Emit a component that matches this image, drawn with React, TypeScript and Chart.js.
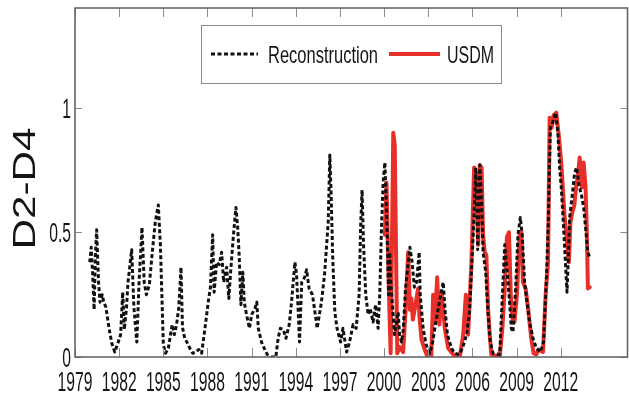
import React, { useEffect, useRef } from 'react';
import { Chart, registerables } from 'chart.js';

Chart.register(...registerables);

// ---------- data ----------
const reconYears = [
  1980.0, 1980.1, 1980.2, 1980.3, 1980.38, 1980.47, 1980.6, 1980.7, 1980.85, 1980.95,
  1981.1, 1981.3, 1981.5, 1981.7, 1981.94, 1982.1, 1982.24, 1982.35, 1982.5, 1982.6,
  1982.85, 1983.0, 1983.2, 1983.35, 1983.55, 1983.7, 1983.85, 1984.05, 1984.25, 1984.45,
  1984.66, 1984.8, 1984.9, 1985.0, 1985.15, 1985.34, 1985.6, 1985.75, 1985.9, 1986.05,
  1986.2, 1986.3, 1986.45, 1986.6, 1986.8, 1987.0, 1987.2, 1987.4, 1987.6, 1987.83,
  1988.05, 1988.2, 1988.35, 1988.45, 1988.62, 1988.8, 1988.96, 1989.1, 1989.3, 1989.45,
  1989.57, 1989.75, 1989.93, 1990.05, 1990.15, 1990.27, 1990.4, 1990.5, 1990.65, 1990.85,
  1991.0, 1991.22, 1991.35, 1991.45, 1991.67, 1991.85, 1992.06, 1992.35, 1992.64, 1992.8,
  1992.95, 1993.15, 1993.33, 1993.55, 1993.71, 1993.82, 1993.94, 1994.05, 1994.15, 1994.25,
  1994.4, 1994.6, 1994.73, 1994.9, 1995.13, 1995.3, 1995.45, 1995.6, 1995.74, 1995.95,
  1996.2, 1996.31, 1996.4, 1996.5, 1996.65, 1996.8, 1997.04, 1997.2, 1997.45, 1997.65,
  1997.89, 1998.1, 1998.3, 1998.4, 1998.5, 1998.6, 1998.75, 1998.91, 1999.05, 1999.25,
  1999.42, 1999.59, 1999.7, 1999.82, 1999.93, 2000.05, 2000.2, 2000.3, 2000.38, 2000.45,
  2000.55, 2000.7, 2000.95, 2001.05, 2001.18, 2001.3, 2001.45, 2001.75, 2001.9, 2002.05,
  2002.2, 2002.38, 2002.45, 2002.65, 2002.85, 2003.1, 2003.3, 2003.44, 2003.75, 2004.01,
  2004.15, 2004.3, 2004.57, 2004.8, 2005.1, 2005.35, 2005.6, 2005.8, 2006.05, 2006.23,
  2006.35, 2006.5, 2006.6, 2006.72, 2006.9, 2007.05, 2007.21, 2007.4, 2007.85, 2008.07,
  2008.19, 2008.33, 2008.48, 2008.64, 2008.75, 2008.93, 2009.09, 2009.25, 2009.38, 2009.54,
  2009.7, 2009.88, 2010.11, 2010.34, 2010.61, 2010.83, 2011.01, 2011.15, 2011.29, 2011.45,
  2011.65, 2011.81, 2011.92, 2012.03, 2012.19, 2012.33, 2012.42, 2012.5, 2012.6, 2012.78,
  2012.94, 2013.08, 2013.23, 2013.4, 2013.55, 2013.68, 2013.84, 2013.96,
];
const reconValues = [
  0.38, 0.44, 0.33, 0.19, 0.40, 0.51, 0.30, 0.22, 0.25, 0.22,
  0.20, 0.12, 0.055, 0.02, 0.06, 0.09, 0.26, 0.11, 0.20, 0.30,
  0.43, 0.20, 0.06, 0.30, 0.52, 0.30, 0.25, 0.29, 0.42, 0.54,
  0.61, 0.45, 0.25, 0.05, 0.015, 0.035, 0.13, 0.09, 0.13, 0.20,
  0.36, 0.12, 0.075, 0.06, 0.035, 0.015, 0.02, 0.03, 0.015, 0.115,
  0.22, 0.28, 0.49, 0.26, 0.38, 0.37, 0.42, 0.30, 0.36, 0.235,
  0.34, 0.48, 0.60, 0.52, 0.41, 0.21, 0.34, 0.22, 0.17, 0.115,
  0.17, 0.195, 0.22, 0.115, 0.06, 0.035, 0.01, 0.0, 0.0, 0.075,
  0.115, 0.11, 0.075, 0.13, 0.22, 0.30, 0.38, 0.33, 0.20, 0.06,
  0.30, 0.32, 0.35, 0.275, 0.25, 0.18, 0.115, 0.17, 0.22, 0.33,
  0.54, 0.81, 0.65, 0.41, 0.18, 0.115, 0.06, 0.115, 0.02, 0.06,
  0.13, 0.115, 0.25, 0.52, 0.67, 0.45, 0.25, 0.17, 0.195, 0.14,
  0.21, 0.115, 0.25, 0.52, 0.70, 0.78, 0.52, 0.25, 0.42, 0.30,
  0.22, 0.09, 0.18, 0.09, 0.06, 0.11, 0.275, 0.44, 0.38, 0.28,
  0.30, 0.42, 0.25, 0.115, 0.05, 0.015, 0.06, 0.115, 0.22, 0.30,
  0.18, 0.09, 0.035, 0.015, 0.01, 0.04, 0.09, 0.18, 0.49, 0.76,
  0.43, 0.77, 0.65, 0.42, 0.34, 0.18, 0.06, 0.015, 0.01, 0.30,
  0.45, 0.36, 0.25, 0.115, 0.10, 0.275, 0.49, 0.56, 0.49, 0.30,
  0.22, 0.14, 0.075, 0.035, 0.02, 0.06, 0.30, 0.54, 0.92, 0.94,
  0.98, 0.89, 0.76, 0.68, 0.52, 0.36, 0.26, 0.38, 0.56, 0.65,
  0.74, 0.76, 0.69, 0.65, 0.60, 0.52, 0.42, 0.40,
];

const usdmYears = [
  2000.05, 2000.16, 2000.25, 2000.33, 2000.44, 2000.62, 2000.72, 2000.89, 2001.05, 2001.29,
  2001.45, 2001.63, 2001.75, 2001.85, 2001.95, 2002.1, 2002.31, 2002.4, 2002.54, 2002.75,
  2002.95, 2003.2, 2003.33, 2003.45, 2003.6, 2003.75, 2003.9, 2004.12, 2004.35, 2004.69,
  2005.14, 2005.37, 2005.55, 2005.7, 2005.93, 2006.11, 2006.25, 2006.39, 2006.5, 2006.62,
  2006.72, 2006.83, 2006.94, 2007.06, 2007.17, 2007.28, 2007.85, 2008.03, 2008.19, 2008.34,
  2008.48, 2008.6, 2008.71, 2008.85, 2009.02, 2009.2, 2009.32, 2009.43, 2009.61, 2009.78,
  2009.99, 2010.15, 2010.33, 2010.5, 2010.79, 2010.97, 2011.13, 2011.24, 2011.38, 2011.51,
  2011.69, 2011.86, 2012.03, 2012.25, 2012.42, 2012.55, 2012.65, 2012.78, 2012.92, 2013.05,
  2013.15, 2013.28, 2013.42, 2013.55, 2013.68, 2013.76, 2013.84, 2013.96,
];
const usdmValues = [
  0.49, 0.70, 0.45, 0.25, 0.015, 0.90, 0.85, 0.015, 0.04, 0.02,
  0.18, 0.42, 0.19, 0.235, 0.15, 0.20, 0.275, 0.16, 0.07, 0.03,
  0.0, 0.0, 0.25, 0.14, 0.32, 0.13, 0.26, 0.115, 0.035, 0.01,
  0.0, 0.09, 0.25, 0.09, 0.38, 0.76, 0.73, 0.45, 0.77, 0.76,
  0.49, 0.42, 0.41, 0.195, 0.09, 0.01, 0.0, 0.115, 0.275, 0.48,
  0.50, 0.25, 0.155, 0.14, 0.25, 0.49, 0.50, 0.30, 0.275, 0.195,
  0.075, 0.015, 0.01, 0.03, 0.02, 0.25, 0.38, 0.96, 0.92, 0.97,
  0.98, 0.89, 0.78, 0.57, 0.46, 0.38, 0.54, 0.58, 0.61, 0.69,
  0.72, 0.80, 0.68, 0.78, 0.68, 0.52, 0.275, 0.28,
];

const xTickYears = [1979, 1982, 1985, 1988, 1991, 1994, 1997, 2000, 2003, 2006, 2009, 2012];
const yTickValues = [0, 0.5, 1];
const seriesLabels = ['Reconstruction', 'USDM'];
const yAxisTitle = 'D2-D4';

const X_MIN = 1979;
const X_MAX = 2016.53;
const Y_MIN = 0;
const Y_MAX = 1.4;

// ---------- style ----------
const FONT_FAMILY = "'Liberation Sans', Arial, Helvetica, sans-serif";
const RECON_COLOR = '#111111';
const USDM_COLOR = '#e8302a';
const RECON_DASH = [4, 2.5];
const FRAME_COLOR = '#5e5e5e';
const TICK_COLOR = '#8c8c8c';
const TEXT_COLOR = '#151515';

function drawSquashed(
  ctx: CanvasRenderingContext2D,
  text: string,
  x: number,
  y: number,
  fontSize: number,
  scaleX: number,
  align: CanvasTextAlign,
) {
  ctx.save();
  ctx.translate(x, y);
  ctx.scale(scaleX, 1);
  ctx.font = `${fontSize}px ${FONT_FAMILY}`;
  ctx.textAlign = align;
  ctx.textBaseline = 'alphabetic';
  ctx.fillStyle = TEXT_COLOR;
  ctx.fillText(text, 0, 0);
  ctx.restore();
}

function fitScale(ctx: CanvasRenderingContext2D, text: string, fontSize: number, target: number) {
  ctx.save();
  ctx.font = `${fontSize}px ${FONT_FAMILY}`;
  const w = ctx.measureText(text).width;
  ctx.restore();
  return w > 0 ? target / w : 1;
}

const framePlugin = {
  id: 'frameAndText',
  afterDatasetsDraw(chart: any) {
    const { ctx, chartArea } = chart;
    const { left, right, top, bottom } = chartArea;
    const xs = chart.scales.x;
    const ys = chart.scales.y;
    ctx.save();
    // inward tick marks
    ctx.strokeStyle = TICK_COLOR;
    ctx.lineWidth = 1;
    ctx.setLineDash([]);
    ctx.beginPath();
    xs.ticks.forEach((t: any) => {
      const px = Math.round(xs.getPixelForValue(t.value)) + 0.5;
      ctx.moveTo(px, bottom);
      ctx.lineTo(px, bottom - 9);
      ctx.moveTo(px, top);
      ctx.lineTo(px, top + 9);
    });
    ys.ticks.forEach((t: any) => {
      const py = Math.round(ys.getPixelForValue(t.value)) + 0.5;
      ctx.moveTo(left, py);
      ctx.lineTo(left + 7, py);
      ctx.moveTo(right, py);
      ctx.lineTo(right - 7, py);
    });
    ctx.stroke();
    // frame
    ctx.strokeStyle = FRAME_COLOR;
    ctx.lineWidth = 1.5;
    ctx.strokeRect(left, top, right - left, bottom - top);
    ctx.restore();
  },
  afterDraw(chart: any) {
    const { ctx, chartArea } = chart;
    const { left, top, bottom } = chartArea;
    const xs = chart.scales.x;
    const ys = chart.scales.y;
    ctx.save();
    // x tick labels
    xs.ticks.forEach((t: any) => {
      const px = xs.getPixelForValue(t.value);
      drawSquashed(ctx, String(t.value), px, bottom + 34, 28, 0.56, 'center');
    });
    // y tick labels
    ys.ticks.forEach((t: any) => {
      const py = ys.getPixelForValue(t.value);
      drawSquashed(ctx, String(t.value), left - 4, py + 10, 28, 0.56, 'right');
    });
    // y axis title (rotated)
    const titleSize = 31;
    const titleScale = fitScale(ctx, yAxisTitle, titleSize, 122);
    ctx.save();
    ctx.translate(35, (top + bottom) / 2 + 6);
    ctx.rotate(-Math.PI / 2);
    ctx.scale(titleScale, 1);
    ctx.font = `${titleSize}px ${FONT_FAMILY}`;
    ctx.textAlign = 'center';
    ctx.textBaseline = 'alphabetic';
    ctx.fillStyle = TEXT_COLOR;
    ctx.fillText(yAxisTitle, 0, 0);
    ctx.restore();

    // legend
    const bx = left + 126.5;
    const by = top + 17.5;
    const bw = 300;
    const bh = 58;
    ctx.fillStyle = '#ffffff';
    ctx.fillRect(bx, by, bw, bh);
    ctx.strokeStyle = '#8a8a8a';
    ctx.lineWidth = 1;
    ctx.strokeRect(bx, by, bw, bh);
    const ly = by + 28.5;
    // reconstruction sample
    ctx.strokeStyle = RECON_COLOR;
    ctx.lineWidth = 3;
    ctx.setLineDash(RECON_DASH);
    ctx.beginPath();
    ctx.moveTo(bx + 9.5, ly);
    ctx.lineTo(bx + 56.5, ly);
    ctx.stroke();
    ctx.setLineDash([]);
    const s1 = fitScale(ctx, seriesLabels[0], 24, 110);
    drawSquashed(ctx, seriesLabels[0], bx + 66.5, ly + 8.5, 24, s1, 'left');
    // usdm sample
    ctx.strokeStyle = USDM_COLOR;
    ctx.lineWidth = 4;
    ctx.beginPath();
    ctx.moveTo(bx + 187.5, ly);
    ctx.lineTo(bx + 238.5, ly);
    ctx.stroke();
    const s2 = fitScale(ctx, seriesLabels[1], 24, 47);
    drawSquashed(ctx, seriesLabels[1], bx + 245.5, ly + 8.5, 24, s2, 'left');
    ctx.restore();
  },
};

export default function App() {
  const canvasRef = useRef<HTMLCanvasElement | null>(null);

  useEffect(() => {
    const canvas = canvasRef.current;
    if (!canvas) return;
    const chart = new Chart(canvas, {
      type: 'line',
      data: {
        datasets: [
          {
            label: seriesLabels[0],
            data: reconYears.map((x, i) => ({ x, y: reconValues[i] })),
            borderColor: RECON_COLOR,
            backgroundColor: RECON_COLOR,
            borderWidth: 3,
            borderDash: RECON_DASH,
            borderJoinStyle: 'round',
            pointRadius: 0,
            tension: 0,
            fill: false,
          },
          {
            label: seriesLabels[1],
            data: usdmYears.map((x, i) => ({ x, y: usdmValues[i] })),
            borderColor: USDM_COLOR,
            backgroundColor: USDM_COLOR,
            borderWidth: 4,
            borderJoinStyle: 'round',
            borderCapStyle: 'round',
            pointRadius: 0,
            tension: 0,
            fill: false,
          },
        ],
      },
      options: {
        animation: false,
        responsive: false,
        maintainAspectRatio: false,
        devicePixelRatio: 1,
        layout: { padding: { top: 8, right: 1.5, left: 0, bottom: 0 } },
        plugins: {
          legend: { display: false },
          tooltip: { enabled: false },
          title: { display: false },
        },
        scales: {
          x: {
            type: 'linear',
            min: X_MIN,
            max: X_MAX,
            grid: { display: false, drawTicks: false },
            border: { display: false },
            ticks: { display: false },
            afterBuildTicks: (scale: any) => {
              scale.ticks = xTickYears.map((v) => ({ value: v }));
            },
            afterFit: (scale: any) => {
              scale.height = 41;
            },
          },
          y: {
            type: 'linear',
            min: Y_MIN,
            max: Y_MAX,
            grid: { display: false, drawTicks: false },
            border: { display: false },
            ticks: { display: false },
            afterBuildTicks: (scale: any) => {
              scale.ticks = yTickValues.map((v) => ({ value: v }));
            },
            afterFit: (scale: any) => {
              scale.width = 75;
            },
          },
        },
      },
      plugins: [framePlugin],
    });
    return () => chart.destroy();
  }, []);

  return (
    <div style={{ position: 'absolute', left: 0, top: 0, width: 629, height: 398, background: '#ffffff' }}>
      <canvas ref={canvasRef} width={629} height={398} style={{ width: 629, height: 398, display: 'block' }} />
    </div>
  );
}
